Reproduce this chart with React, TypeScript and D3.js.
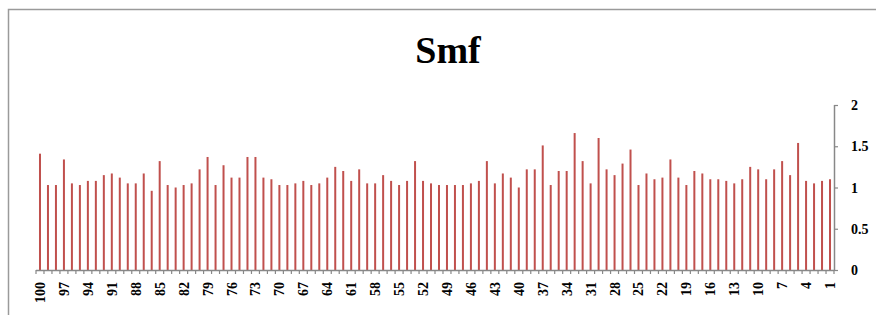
import React, { useEffect, useRef } from 'react';
import * as d3 from 'd3';

// categories run from 100 down to 1
const categories: number[] = [
  100, 99, 98, 97, 96, 95, 94, 93, 92, 91, 90, 89, 88, 87, 86, 85, 84, 83, 82, 81,
  80, 79, 78, 77, 76, 75, 74, 73, 72, 71, 70, 69, 68, 67, 66, 65, 64, 63, 62, 61,
  60, 59, 58, 57, 56, 55, 54, 53, 52, 51, 50, 49, 48, 47, 46, 45, 44, 43, 42, 41,
  40, 39, 38, 37, 36, 35, 34, 33, 32, 31, 30, 29, 28, 27, 26, 25, 24, 23, 22, 21,
  20, 19, 18, 17, 16, 15, 14, 13, 12, 11, 10, 9, 8, 7, 6, 5, 4, 3, 2, 1,
];

const smfValues: number[] = [
  1.41, 1.03, 1.03, 1.34, 1.05, 1.03, 1.08, 1.08, 1.15, 1.17,
  1.12, 1.05, 1.05, 1.17, 0.96, 1.32, 1.03, 1.0, 1.03, 1.05,
  1.22, 1.37, 1.03, 1.27, 1.12, 1.12, 1.37, 1.37, 1.12, 1.1,
  1.03, 1.03, 1.05, 1.08, 1.03, 1.05, 1.12, 1.25, 1.2, 1.08,
  1.22, 1.05, 1.05, 1.15, 1.08, 1.03, 1.08, 1.32, 1.08, 1.05,
  1.03, 1.03, 1.03, 1.03, 1.05, 1.08, 1.32, 1.05, 1.17, 1.12,
  1.0, 1.22, 1.22, 1.51, 1.03, 1.2, 1.2, 1.66, 1.32, 1.05,
  1.6, 1.22, 1.15, 1.29, 1.46, 1.03, 1.17, 1.1, 1.12, 1.34,
  1.12, 1.03, 1.2, 1.17, 1.1, 1.1, 1.08, 1.05, 1.1, 1.25,
  1.22, 1.1, 1.22, 1.32, 1.15, 1.54, 1.08, 1.05, 1.08, 1.1,
];

const yTicks: number[] = [0, 0.5, 1, 1.5, 2];
const xLabels: number[] = categories.filter((c) => (100 - c) % 3 === 0);

const FONT = '"Liberation Serif", "Times New Roman", serif';

const App: React.FC = () => {
  const svgRef = useRef<SVGSVGElement>(null);

  useEffect(() => {
    if (!svgRef.current) return;
    const width = 876;
    const height = 315;
    const svg = d3.select(svgRef.current);
    svg.selectAll('*').remove();

    const left = 36;
    const right = 834;
    const top = 105;
    const bottom = 270;

    // frame
    svg.append('rect')
      .attr('x', 8.5)
      .attr('y', 9.5)
      .attr('width', width + 20)
      .attr('height', height + 20)
      .attr('fill', 'white')
      .attr('stroke', '#9a9a9a')
      .attr('stroke-width', 1.5);

    // title
    svg.append('text')
      .attr('x', 448)
      .attr('y', 63)
      .attr('text-anchor', 'middle')
      .style('font-family', FONT)
      .style('font-weight', 'bold')
      .style('font-size', '38px')
      .text('Smf');

    const x = d3.scaleBand<number>()
      .domain(categories)
      .range([left, right]);

    const y = d3.scaleLinear()
      .domain([0, 2])
      .range([bottom, top]);

    // bars
    svg.append('g')
      .selectAll('rect')
      .data(categories)
      .enter()
      .append('rect')
      .attr('x', (d) => (x(d) as number) + x.bandwidth() / 2 - 1)
      .attr('width', 2)
      .attr('y', (d, i) => y(smfValues[i]))
      .attr('height', (d, i) => y(0) - y(smfValues[i]))
      .attr('fill', '#c0504d');

    // x axis
    const xAxis = svg.append('g');
    xAxis.append('line')
      .attr('x1', left)
      .attr('x2', right)
      .attr('y1', bottom + 0.5)
      .attr('y2', bottom + 0.5)
      .attr('stroke', '#888')
      .attr('stroke-width', 1.5);

    xAxis.selectAll('.xtick')
      .data(categories.concat([0]))
      .enter()
      .append('line')
      .attr('class', 'xtick')
      .attr('x1', (d, i) => left + i * x.step())
      .attr('x2', (d, i) => left + i * x.step())
      .attr('y1', bottom)
      .attr('y2', bottom + 4)
      .attr('stroke', '#888')
      .attr('stroke-width', 1.2);

    xAxis.selectAll('.xlabel')
      .data(xLabels)
      .enter()
      .append('text')
      .attr('class', 'xlabel')
      .attr('transform', (d) => `translate(${(x(d) as number) + x.bandwidth() / 2 + 5},${bottom + 12}) rotate(-90)`)
      .attr('text-anchor', 'end')
      .style('font-family', FONT)
      .style('font-weight', 'bold')
      .style('font-size', '14px')
      .text((d) => String(d));

    // y axis on right
    const yAxis = svg.append('g');
    yAxis.append('line')
      .attr('x1', right + 0.5)
      .attr('x2', right + 0.5)
      .attr('y1', top)
      .attr('y2', bottom + 1)
      .attr('stroke', '#888')
      .attr('stroke-width', 1.5);

    yAxis.selectAll('.ytick')
      .data(yTicks)
      .enter()
      .append('line')
      .attr('class', 'ytick')
      .attr('x1', right)
      .attr('x2', right + 4)
      .attr('y1', (d) => y(d) + 0.5)
      .attr('y2', (d) => y(d) + 0.5)
      .attr('stroke', '#888')
      .attr('stroke-width', 1.2);

    yAxis.selectAll('.ylabel')
      .data(yTicks)
      .enter()
      .append('text')
      .attr('class', 'ylabel')
      .attr('x', right + 17)
      .attr('y', (d) => y(d) + 5)
      .style('font-family', FONT)
      .style('font-weight', 'bold')
      .style('font-size', '14px')
      .text((d) => String(d));
  }, []);

  return (
    <svg
      ref={svgRef}
      width="876"
      height="315"
      viewBox="0 0 876 315"
      style={{ position: 'absolute', left: 0, top: 0, display: 'block' }}
    ></svg>
  );
};

export default App;
